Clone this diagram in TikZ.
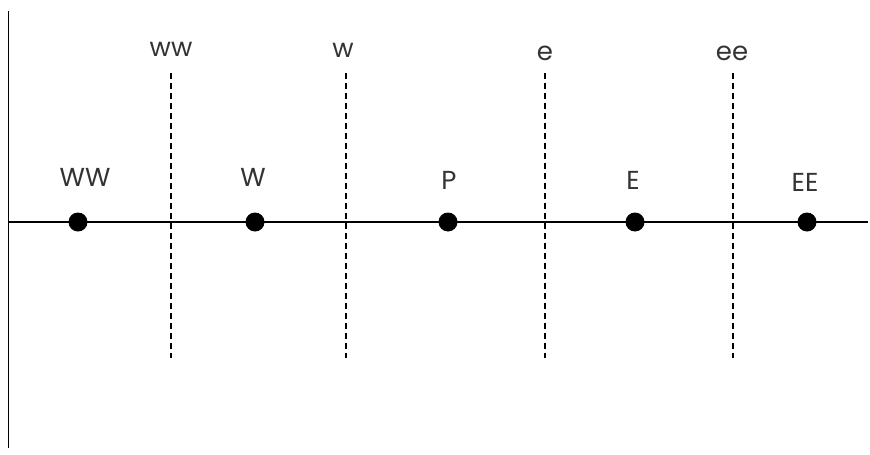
\documentclass[tikz,border=0pt]{standalone}
\usepackage{fontspec}
\setmainfont{Poppins}
\begin{document}
\begin{tikzpicture}[x=1pt,y=-1pt,
  axis/.style={line width=1.3pt,black},
  face/.style={draw,dash pattern=on 6pt off 4pt,line width=1.1pt},
  pnode/.style={circle,fill=black,inner sep=0pt,minimum size=19pt},
  lbl/.style={text=black!80,font=\fontsize{26}{30}\selectfont,inner sep=0pt}]
\useasboundingbox (0,0) rectangle (870,455);
\coordinate (vt) at (8.5,11);
\coordinate (vb) at (8.5,448);
\coordinate (hl) at (8.5,222);
\coordinate (hr) at (868,222);
\draw[axis] (vt) -- (vb);
\draw[axis] (hl) -- (hr);
\foreach \n/\x in {fww/171,fw/346,fe/545,fee/733}{
  \coordinate (\n t) at (\x,73);
  \coordinate (\n b) at (\x,358);
  \draw[face] (\n t) -- (\n b);
}
\node[pnode] (WW) at (78,222) {};
\node[pnode] (W) at (255,222) {};
\node[pnode] (P) at (448,222) {};
\node[pnode] (E) at (635,222) {};
\node[pnode] (EE) at (807,222) {};
\node[lbl] (lWW) at (85,177) {WW};
\node[lbl] (lW) at (253,177) {W};
\node[lbl] (lP) at (449,180) {P};
\node[lbl] (lE) at (633,180) {E};
\node[lbl] (lEE) at (805,182) {EE};
\node[lbl] (lww) at (171,49) {ww};
\node[lbl] (lw) at (343,50) {w};
\node[lbl] (le) at (545,53) {e};
\node[lbl] (lee) at (732,53) {ee};
\end{tikzpicture}
\end{document}
